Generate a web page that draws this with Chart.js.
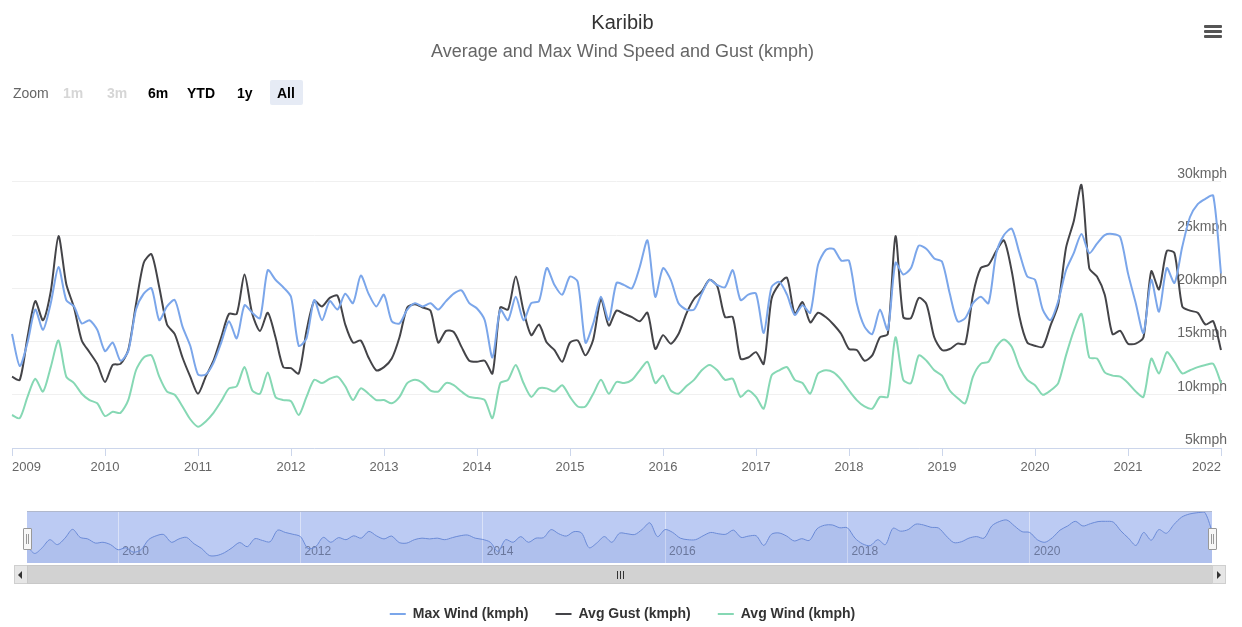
<!DOCTYPE html>
<html>
<head>
<meta charset="utf-8">
<title>Karibib - Average and Max Wind Speed and Gust</title>
<script src="https://cdn.jsdelivr.net/npm/chart.js@4.4.1/dist/chart.umd.min.js"></script>
<style>
  html, body { margin:0; padding:0; background:#ffffff; }
  #wrap { position:relative; width:1242px; height:627px; overflow:hidden;
          font-family:"Liberation Sans", Arial, Helvetica, sans-serif; }
  #main { position:absolute; left:0; top:0; }
  .rs { position:absolute; top:84px; font-size:14px; line-height:18px; white-space:nowrap; }
  .btn { font-weight:bold; color:#000; }
  .dis { font-weight:bold; color:#d6d6d6; }
  #allBox { position:absolute; left:270px; top:80px; width:33px; height:25px; background:#e6ebf5; border-radius:2px; }
  #menu { position:absolute; left:1204px; top:25px; width:18px; height:14px; }
  #menu div { position:absolute; left:0; width:18px; height:3px; background:#555; border-radius:1px; }
  #navWrap { position:absolute; left:27px; top:512px; width:1185px; height:51px; background:#bccbf3; }
  #nav { position:absolute; left:0; top:0; }
  #navTop { position:absolute; left:27px; top:511px; width:1185px; height:1px; background:#b0b8cc; }
  .handle { position:absolute; top:528px; width:7px; height:20px; background:#f7f7f7; border:1px solid #999; border-radius:1px; }
  .handle i { position:absolute; top:5px; width:1px; height:10px; background:#999; }
  #sbL, #sbR { position:absolute; top:565px; width:12px; height:17px; background:#e6e6e6; border:1px solid #cfcfcf; }
  #sbThumb { position:absolute; left:27px; top:565px; width:1184px; height:17px; background:#d2d2d2; border:1px solid #c8c8c8; }
  .grip { position:absolute; top:5px; width:1px; height:8px; background:#333; }
  .triL { position:absolute; left:3px; top:5px; width:0; height:0; border-top:4px solid transparent; border-bottom:4px solid transparent; border-right:4px solid #333; }
  .triR { position:absolute; left:4px; top:5px; width:0; height:0; border-top:4px solid transparent; border-bottom:4px solid transparent; border-left:4px solid #333; }
</style>
</head>
<body>
<div id="wrap">
  <canvas id="main" width="1242" height="627"></canvas>

  <div id="allBox"></div>
  <div class="rs" style="left:13px;color:#666;">Zoom</div>
  <div class="rs dis" style="left:63px;">1m</div>
  <div class="rs dis" style="left:107px;">3m</div>
  <div class="rs btn" style="left:148px;">6m</div>
  <div class="rs btn" style="left:187px;">YTD</div>
  <div class="rs btn" style="left:237px;">1y</div>
  <div class="rs btn" style="left:277px;">All</div>

  <div id="menu"><div style="top:0"></div><div style="top:5px"></div><div style="top:10px"></div></div>

  <div id="navTop"></div>
  <div id="navWrap"><canvas id="nav" width="1185" height="51"></canvas></div>
  <div class="handle" style="left:23px;"><i style="left:2px"></i><i style="left:4px"></i></div>
  <div class="handle" style="left:1208px;"><i style="left:2px"></i><i style="left:4px"></i></div>

  <div id="sbL" style="left:14px;"><div class="triL"></div></div>
  <div id="sbThumb">
    <div class="grip" style="left:589px"></div><div class="grip" style="left:592px"></div><div class="grip" style="left:595px"></div>
  </div>
  <div id="sbR" style="left:1212px;"><div class="triR"></div></div>
</div>

<script>
// ---------- data (monthly, Jan 2009 - Jan 2022) ----------
const startYear = 2009;

const maxWind = [
  15.7,12.7,14.9,18.0,16.1,18.6,22.0,18.9,18.3,16.7,17.0,16.1,
  14.1,14.9,13.2,14.1,18.0,19.5,20.0,17.0,18.3,18.9,16.4,14.6,
  11.9,11.9,13.0,14.9,16.9,15.3,18.4,17.7,17.2,21.7,20.8,20.1,
  19.2,14.6,15.3,18.9,17.0,18.8,18.0,19.5,18.6,21.2,19.5,18.3,
  19.4,16.9,16.7,18.0,18.6,18.3,18.6,18.0,18.8,19.5,19.8,18.6,
  18.1,17.0,13.5,18.0,17.0,19.2,17.0,18.6,18.8,21.9,20.3,19.4,
  21.1,20.6,14.9,16.7,19.2,17.0,20.5,20.3,20.0,22.0,24.5,19.2,
  21.9,20.8,18.6,18.0,18.0,19.5,20.8,20.3,20.1,21.7,18.9,19.4,
  19.5,15.8,20.1,20.6,19.4,17.5,18.4,17.7,22.2,23.6,23.7,22.6,
  22.6,18.6,16.4,15.7,18.0,16.1,22.4,21.3,21.9,24.0,23.7,22.8,
  22.5,19.5,16.9,17.2,18.6,19.2,18.6,23.3,25.0,25.6,23.3,21.1,
  20.8,18.0,17.0,18.8,21.7,23.3,25.1,23.3,24.2,25.0,25.1,24.8,
  21.4,18.6,15.8,20.8,17.8,21.9,20.5,23.9,26.7,27.9,28.4,28.7,
  21.4
];

const avgGust = [
  11.7,11.4,15.4,18.8,17.0,19.7,24.9,20.4,18.2,15.1,14.0,12.9,
  11.2,12.8,12.9,14.2,18.5,22.4,23.2,20.1,16.6,15.7,13.5,11.7,
  10.1,11.7,13.2,15.4,17.6,17.6,21.3,17.6,16.0,17.7,15.4,12.6,
  12.5,12.0,16.0,18.8,18.3,19.1,19.3,16.6,14.9,15.1,13.5,12.3,
  12.6,13.4,15.4,18.2,18.5,18.2,17.9,14.9,16.0,15.9,14.5,13.2,
  13.1,13.2,12.0,18.2,18.0,21.1,17.9,15.6,16.6,14.9,14.2,13.1,
  14.9,15.1,13.7,15.2,19.0,16.5,17.9,17.6,17.3,16.9,17.7,14.3,
  15.6,14.8,15.7,17.6,19.0,19.7,20.8,20.2,17.3,17.3,13.4,13.5,
  14.0,12.9,19.0,20.4,21.0,17.6,18.7,16.8,17.7,17.3,16.6,15.7,
  14.3,14.2,13.2,13.7,15.4,15.7,24.9,17.3,17.2,19.1,18.5,15.4,
  14.2,14.3,14.8,14.8,19.4,21.9,22.2,23.5,24.5,21.6,17.3,14.9,
  14.6,14.5,16.5,18.5,23.8,26.3,29.7,21.9,21.1,19.4,15.7,16.0,
  14.8,14.8,15.4,21.6,19.9,23.5,23.3,18.3,17.9,17.7,16.6,16.9,
  14.2
];

const avgWind = [
   8.1, 7.8, 9.8,11.5,10.3,12.6,15.1,11.7,11.1,10.1, 9.5, 9.2,
   8.0, 8.4, 8.3, 9.5,12.3,13.5,13.7,11.7,10.3,10.0, 8.9, 7.7,
   7.0, 7.5, 8.3, 9.4,10.6,10.8,12.6,10.4,10.1,12.1, 9.8, 9.5,
   9.4, 8.1, 9.8,11.4,11.1,11.5,11.7,10.8, 9.5,10.6,10.1, 9.5,
   9.5, 9.2, 9.8,11.1,11.4,11.1,10.4,10.3,11.1,10.9,10.3, 9.8,
   9.7, 9.5, 7.8,11.1,11.4,12.8,11.1, 9.8,10.6,10.6,10.3,10.9,
   9.8, 8.9, 8.9,10.1,11.4,10.1,11.2,11.1,11.4,12.3,13.1,11.1,
  11.8,10.4,10.1,10.8,11.4,12.3,12.8,12.3,11.4,11.5, 9.8,10.4,
   9.8, 8.7,11.8,12.3,12.6,11.4,11.1,10.1,12.0,12.3,12.1,11.4,
  10.4, 9.5, 8.9, 8.7, 9.8, 9.8,15.4,11.4,11.1,13.7,13.2,12.3,
  11.8,10.4, 9.7, 9.2,11.7,12.9,13.1,14.5,15.2,14.5,12.6,11.4,
  10.9,10.0,10.4,11.1,13.7,16.0,17.6,13.5,13.4,12.1,11.8,11.7,
  11.1,10.3, 9.8,13.4,12.0,14.0,13.1,12.0,12.3,12.6,12.8,12.9,
  11.1
];

const yTicks = [5, 10, 15, 20, 25, 30];
const navYears = [2010, 2012, 2014, 2016, 2018, 2020];

const seriesNames = ['Max Wind (kmph)', 'Avg Gust (kmph)', 'Avg Wind (kmph)'];
const seriesColors = ['#7ba6ea', '#444448', '#86d8b4'];

// month category labels built from the start year
const months = maxWind.map((_, i) =>
  (startYear + Math.floor(i / 12)) + '-' + String(i % 12 + 1).padStart(2, '0'));

Chart.defaults.font.family = '"Liberation Sans", Arial, Helvetica, sans-serif';

function lineDs(label, data, color) {
  return { label, data, borderColor: color, backgroundColor: color, borderWidth: 2,
           pointRadius: 0, pointHoverRadius: 0, tension: 0.25, fill: false };
}

new Chart(document.getElementById('main'), {
  type: 'line',
  data: {
    labels: months,
    datasets: [
      lineDs(seriesNames[0], maxWind, seriesColors[0]),
      lineDs(seriesNames[1], avgGust, seriesColors[1]),
      lineDs(seriesNames[2], avgWind, seriesColors[2])
    ]
  },
  options: {
    responsive: false,
    animation: false,
    events: [],
    layout: { padding: { left: 12, right: 9, top: 0, bottom: -4 } },
    plugins: {
      title: { display: true, text: 'Karibib', color: '#333333',
               font: { size: 20, weight: 'normal' }, padding: { top: 11, bottom: 5 } },
      subtitle: { display: true, text: 'Average and Max Wind Speed and Gust (kmph)', color: '#666666',
                  font: { size: 18, weight: 'normal' }, padding: { top: 1, bottom: 66 } },
      legend: { position: 'bottom',
                labels: { usePointStyle: true, pointStyle: 'line', pointStyleWidth: 16,
                          color: '#333333', font: { size: 14, weight: 'bold' }, padding: 27 } },
      tooltip: { enabled: false }
    },
    scales: {
      x: {
        type: 'category',
        afterBuildTicks: s => { s.ticks = s.ticks.filter(t => t.value % 12 === 0); },
        afterFit: s => { s.height = 132; },
        ticks: { autoSkip: false, maxRotation: 0, minRotation: 0, align: 'inner', padding: 4,
                 color: '#666666', font: { size: 13 },
                 callback: v => months[v].slice(0, 4) },
        grid: { drawOnChartArea: false, tickLength: 8, color: '#ccd6eb' },
        border: { display: true, color: '#ccd6eb' }
      },
      y: {
        position: 'right',
        min: 5, max: 35,
        z: 1,
        afterBuildTicks: s => { s.ticks = yTicks.map(v => ({ value: v })); },
        ticks: { mirror: true, padding: 6, labelOffset: -8, color: '#666666',
                 font: { size: 14 }, callback: v => v + 'kmph' },
        grid: { color: '#f0f0f0', drawTicks: false },
        border: { display: false }
      }
    }
  }
});

new Chart(document.getElementById('nav'), {
  type: 'line',
  data: {
    labels: months,
    datasets: [{ data: maxWind, borderColor: '#6a8ad6', borderWidth: 1,
                 backgroundColor: 'rgba(70,100,190,0.10)', fill: 'start',
                 pointRadius: 0, tension: 0.3 }]
  },
  options: {
    responsive: false,
    animation: false,
    events: [],
    layout: { padding: 0 },
    plugins: { legend: { display: false }, title: { display: false }, tooltip: { enabled: false } },
    scales: {
      x: {
        type: 'category',
        z: 1,
        afterBuildTicks: s => { s.ticks = s.ticks.filter(t => t.value % 12 === 0 &&
                                  navYears.includes(Number(months[t.value].slice(0, 4)))); },
        afterFit: s => { s.height = 0; },
        ticks: { mirror: true, autoSkip: false, maxRotation: 0, minRotation: 0, align: 'start', padding: 4,
                 labelOffset: 4, color: '#6f7a99', font: { size: 12 },
                 callback: v => months[v].slice(0, 4) },
        grid: { color: 'rgba(255,255,255,0.45)', drawTicks: false },
        border: { display: false }
      },
      y: { display: false, min: 9, max: 28.7 }
    }
  }
});
</script>
</body>
</html>
